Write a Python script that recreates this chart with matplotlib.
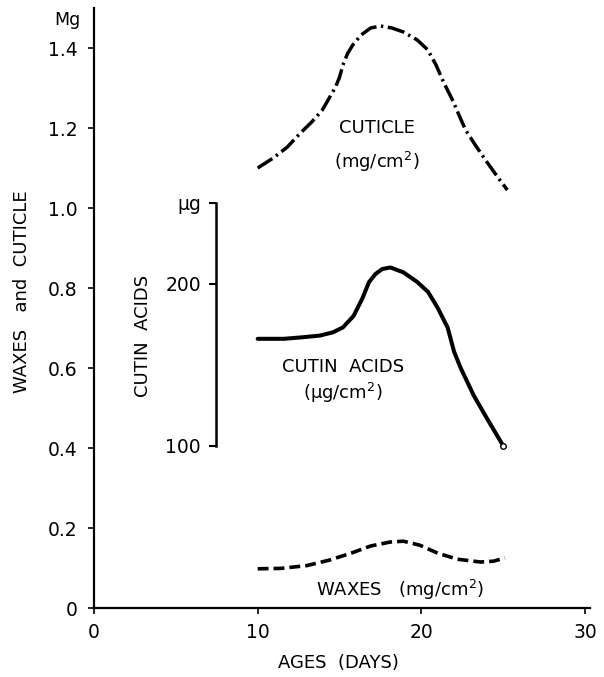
import matplotlib
matplotlib.use("Agg")
import matplotlib.pyplot as plt

# ---- data ----
cuticle_days = [10.0, 10.95, 11.8, 12.6, 13.3, 13.95, 14.4, 14.75, 15.0, 15.2, 15.5,
                15.8, 16.3, 16.9, 17.5, 18.2, 18.9, 19.75, 20.4, 20.9, 21.35, 21.9,
                22.3, 22.7, 23.3, 24.0, 24.7, 25.25]
cuticle_mg = [1.10, 1.125, 1.152, 1.187, 1.215, 1.245, 1.277, 1.302, 1.327, 1.357, 1.387,
              1.407, 1.432, 1.45, 1.455, 1.45, 1.44, 1.42, 1.395, 1.357, 1.315, 1.27,
              1.232, 1.195, 1.157, 1.115, 1.075, 1.045]

cutin_days = [10.0, 11.6, 12.8, 13.8, 14.6, 15.2, 15.85, 16.4, 16.8, 17.2, 17.6, 18.1,
              18.9, 19.75, 20.4, 21.0, 21.6, 22.0, 22.4, 23.2, 24.0, 25.0]
cutin_ug = [166, 166, 167, 168, 170, 173, 180, 191, 201, 206, 209, 210,
            207, 201, 195, 185, 173, 158, 148, 131, 117, 100]

wax_days = [10.0, 11.4, 13.0, 14.4, 15.7, 16.9, 18.1, 18.9, 19.9, 21.0, 22.2, 23.6, 24.4, 25.1]
wax_mg = [0.098, 0.099, 0.106, 0.120, 0.137, 0.155, 0.165, 0.167, 0.157, 0.137, 0.122,
          0.115, 0.117, 0.125]

x_ticks = [0, 10, 20, 30]
y_ticks = [0, 0.2, 0.4, 0.6, 0.8, 1.0, 1.2, 1.4]
y_ticklabels = ["0", "0.2", "0.4", "0.6", "0.8", "1.0", "1.2", "1.4"]
ug_ticks = [100, 200, 250]
ug_ticklabels = ["100", "200", "μg"]

plt.rcParams['font.family'] = ['DejaVu Sans']
fig = plt.figure(figsize=(6.04, 6.77), dpi=100)
ax = fig.add_axes([94/604, (677-608)/677, 496/604, 600/677])

ax.set_xlim(0, 30.3)
ax.set_ylim(0, 1.5)
for s in ['top', 'right']:
    ax.spines[s].set_visible(False)
for s in ['left', 'bottom']:
    ax.spines[s].set_linewidth(1.6)
ax.set_xticks(x_ticks)
ax.set_yticks(y_ticks)
ax.set_yticklabels(y_ticklabels)
ax.tick_params(axis='both', direction='out', length=4, width=1.2, labelsize=13.5)
ax.tick_params(axis='y', pad=8)
ax.tick_params(axis='x', pad=7)

# cuticle (dash-dot)
ax.plot(cuticle_days, cuticle_mg, color='black', lw=2.5,
        dashes=(5.0, 1.3, 0.7, 1.3))
# waxes (dashed)
ax.plot(wax_days, wax_mg, color='black', lw=2.6, dashes=(3.0, 1.4))

# secondary axis for cutin acids
ax2 = ax.twinx()
ax2.set_ylim(0, 370)
for s in ['top', 'right', 'bottom']:
    ax2.spines[s].set_visible(False)
ax2.spines['left'].set_position(('data', 7.46))
ax2.spines['left'].set_bounds(100, 250)
ax2.spines['left'].set_linewidth(1.8)
ax2.yaxis.set_ticks_position('left')
ax2.set_yticks(ug_ticks)
ax2.set_yticklabels(ug_ticklabels)
ax2.tick_params(axis='y', direction='out', length=5, width=1.5, labelsize=13.5, pad=6)
ax2.plot(cutin_days, cutin_ug, color='black', lw=2.9, solid_capstyle='round',
         solid_joinstyle='round')
ax2.plot(cutin_days[-1:], cutin_ug[-1:], 'o', ms=4, mfc='white', mec='black', mew=1)

# text labels
ax.text(-1.6, 1.47, "Mg", fontsize=12.5, ha='center', va='center', clip_on=False)
ax.text(17.3, 1.20, "CUTICLE", fontsize=13, ha='center', va='center')
ax.text(17.3, 1.115, "(mg/cm$^2$)", fontsize=13, ha='center', va='center')
ax.text(15.2, 0.6025, "CUTIN  ACIDS", fontsize=13, ha='center', va='center')
ax.text(15.2, 0.5375, "(μg/cm$^2$)", fontsize=13, ha='center', va='center')
ax.text(18.7, 0.045, "WAXES   (mg/cm$^2$)", fontsize=13, ha='center', va='center')

fig.text(338/604, 1 - 663/677, "AGES  (DAYS)", fontsize=13, ha='center', va='center')
fig.text(22/604, 1 - 292/677, "WAXES   and  CUTICLE", fontsize=13, ha='center',
         va='center', rotation=90)
fig.text(143/604, 1 - 336/677, "CUTIN  ACIDS", fontsize=13, ha='center',
         va='center', rotation=90)

fig.savefig("out.png", dpi=100)
